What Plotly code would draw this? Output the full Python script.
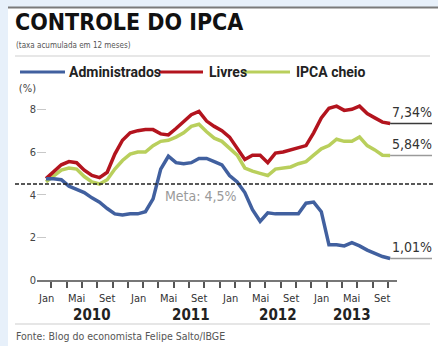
import plotly.graph_objects as go
import pandas as pd

# ---------------- data ----------------
months = pd.date_range("2010-01-01", "2013-10-01", freq="MS")
month_abbr = {1: "Jan", 5: "Mai", 9: "Set"}
years = [2010, 2011, 2012, 2013]
year_pos = [6.0, 19.0, 30.4, 40.0]   # label position (month index) of each year

administrados = [4.75, 4.75, 4.70, 4.40, 4.25, 4.10, 3.85, 3.65, 3.35, 3.10, 3.05, 3.10,
                 3.10, 3.20, 3.80, 5.20, 5.80, 5.50, 5.45, 5.50, 5.70, 5.70, 5.55, 5.40,
                 4.90, 4.60, 4.10, 3.30, 2.75, 3.15, 3.10, 3.10, 3.10, 3.10, 3.60, 3.65,
                 3.20, 1.65, 1.65, 1.60, 1.75, 1.60, 1.40, 1.25, 1.10, 1.01]
livres = [4.75, 5.10, 5.40, 5.55, 5.50, 5.15, 4.90, 4.80, 5.05, 5.90, 6.55, 6.90,
          7.00, 7.05, 7.05, 6.85, 6.80, 7.10, 7.40, 7.75, 7.90, 7.45, 7.20, 7.00,
          6.70, 6.20, 5.65, 5.85, 5.85, 5.50, 5.95, 6.00, 6.10, 6.20, 6.30, 6.90,
          7.60, 8.05, 8.15, 7.95, 8.00, 8.15, 7.80, 7.60, 7.40, 7.34]
ipca_cheio = [4.60, 4.85, 5.15, 5.25, 5.20, 4.85, 4.60, 4.50, 4.70, 5.20, 5.60, 5.90,
              6.00, 6.00, 6.30, 6.50, 6.55, 6.70, 6.90, 7.20, 7.30, 6.95, 6.65, 6.50,
              6.20, 5.85, 5.25, 5.10, 5.00, 4.90, 5.20, 5.25, 5.30, 5.45, 5.55, 5.85,
              6.15, 6.30, 6.60, 6.50, 6.50, 6.70, 6.30, 6.10, 5.85, 5.84]
meta = 4.5
end_labels = ["7,34%", "5,84%", "1,01%"]
y_ticks = [0, 2, 4, 6, 8, 9]
y_ticktext = ["0", "2", "4", "6", "8", "(%)"]

names = ["Administrados", "Livres", "IPCA cheio"]
colors = ["#41609f", "#b3141e", "#b9cf5c"]

# ---------------- layout helpers ----------------
W, H = 438, 346
L, R, T, B = 37, 41, 88, 66
PW, PH = W - L - R, H - T - B
XR = [-1.18, 45.9]
FONT = "DejaVu Sans Condensed, sans-serif"
LFONT = "Roboto, sans-serif"


def px(x):
    return (x - L) / PW


def py(y):
    return (H - B - y) / PH


def xdata_to_paper(v):
    return (v - XR[0]) / (XR[1] - XR[0])


idx = list(range(len(months)))
fig = go.Figure()
for vals, nm, col in [(ipca_cheio, names[2], colors[2]),
                      (livres, names[1], colors[1]),
                      (administrados, names[0], colors[0])]:
    fig.add_trace(go.Scatter(x=idx, y=vals, mode="lines", name=nm,
                             line=dict(color=col, width=3.5, shape="linear"),
                             showlegend=False, hoverinfo="x+y"))

shapes = []
ann = []
# background border
shapes.append(dict(type="rect", xref="paper", yref="paper", x0=px(8), x1=px(W + 5),
                   y0=py(8), y1=py(H + 5), fillcolor="white", line_width=0, layer="below"))
shapes.append(dict(type="line", xref="paper", yref="paper", x0=px(8), x1=px(W + 5),
                   y0=py(7.5), y1=py(7.5), line=dict(color="#7a7a7a", width=2)))
# separators
shapes.append(dict(type="line", xref="paper", yref="paper", x0=px(15), x1=px(430),
                   y0=py(56), y1=py(56), line=dict(color="#cfcfcf", width=1)))
shapes.append(dict(type="line", xref="paper", yref="paper", x0=px(15), x1=px(430),
                   y0=py(324), y1=py(324), line=dict(color="#dedede", width=1.5)))
# meta line
shapes.append(dict(type="line", xref="paper", yref="y", x0=px(15), x1=px(433),
                   y0=meta, y1=meta, line=dict(color="#222", width=1.7, dash="4px,2px")))
# end-value lines and labels
series_end = [livres[-1], ipca_cheio[-1], administrados[-1]]
end_cols = ["#3a3a3a", "#9a9a9a", "#9a9a9a"]
x_end = xdata_to_paper(idx[-1])
for v, c, t in zip(series_end, end_cols, end_labels):
    shapes.append(dict(type="line", xref="paper", yref="y", x0=x_end, x1=px(432),
                       y0=v, y1=v, line=dict(color=c, width=1.5)))
    ann.append(dict(x=px(412), y=v, xref="paper", yref="y", xanchor="center",
                    yanchor="middle", yshift=11, text=t,
                    showarrow=False, font=dict(family=FONT, size=14, color="#333")))

# legend (manual)
leg = [(20, 65, 67), (159, 203, 207), (243, 290, 294)]
for (a, b, tx), nm, col in zip(leg, names, colors):
    shapes.append(dict(type="line", xref="paper", yref="paper", x0=px(a), x1=px(b),
                       y0=py(72), y1=py(72), line=dict(color=col, width=3)))
    ann.append(dict(x=px(tx), y=py(72), xref="paper", yref="paper", xanchor="left",
                    yanchor="middle", text="<b>" + nm + "</b>", showarrow=False,
                    font=dict(family=LFONT, size=14, color="#222")))

# title, subtitle, source
ann.append(dict(x=px(13), y=py(22), xref="paper", yref="paper", xanchor="left",
                yanchor="middle", text="<b>CONTROLE DO IPCA</b>", showarrow=False,
                font=dict(family=FONT, size=23, color="#111")))
ann.append(dict(x=px(14), y=py(45), xref="paper", yref="paper", xanchor="left",
                yanchor="middle", text="(taxa acumulada em 12 meses)", showarrow=False,
                font=dict(family=FONT, size=8, color="#555")))
ann.append(dict(x=px(14), y=py(336), xref="paper", yref="paper", xanchor="left",
                yanchor="middle", text="Fonte: Blog do economista Felipe Salto/IBGE",
                showarrow=False, font=dict(family=FONT, size=10.5, color="#555")))
ann.append(dict(x=15.3, y=meta, xref="x", yref="y", xanchor="left", yanchor="top",
                yshift=-2, text="Meta: 4,5%", showarrow=False,
                font=dict(family=FONT, size=14, color="#9a9a9a")))

# month labels and years
for i, d in enumerate(months):
    if d.month in month_abbr and i <= 44:
        ann.append(dict(x=i, y=py(298), xref="x", yref="paper", xanchor="center",
                        yanchor="middle", text=month_abbr[d.month], showarrow=False,
                        font=dict(family=FONT, size=11, color="#333")))
for yv, pos in zip(years, year_pos):
    ann.append(dict(x=pos, y=py(315), xref="x", yref="paper", xanchor="center",
                    yanchor="middle", text="<b>%d</b>" % yv, showarrow=False,
                    font=dict(family=FONT, size=15, color="#222")))

tick_vals = [0.7 + 2 * k for k in range(23)]

fig.update_layout(
    width=W, height=H, margin=dict(l=L, r=R, t=T, b=B, pad=0),
    paper_bgcolor="#e7f0fa", plot_bgcolor="white",
    shapes=shapes, annotations=ann, showlegend=False,
    xaxis=dict(range=XR, showgrid=False, zeroline=False,
               tickvals=tick_vals, ticktext=[""] * len(tick_vals),
               ticks="outside", ticklen=6, tickwidth=1.8, tickcolor="#555",
               showline=True, linecolor="#777", linewidth=2, fixedrange=True),
    yaxis=dict(range=[0, 9], showgrid=False, zeroline=False,
               tickvals=y_ticks, ticktext=y_ticktext,
               ticks="inside", ticklen=9, tickwidth=1, tickcolor="#c8c8c8",
               tickfont=dict(family=FONT, size=11, color="#444"),
               showline=False, fixedrange=True),
)

fig.write_html("out.html")
